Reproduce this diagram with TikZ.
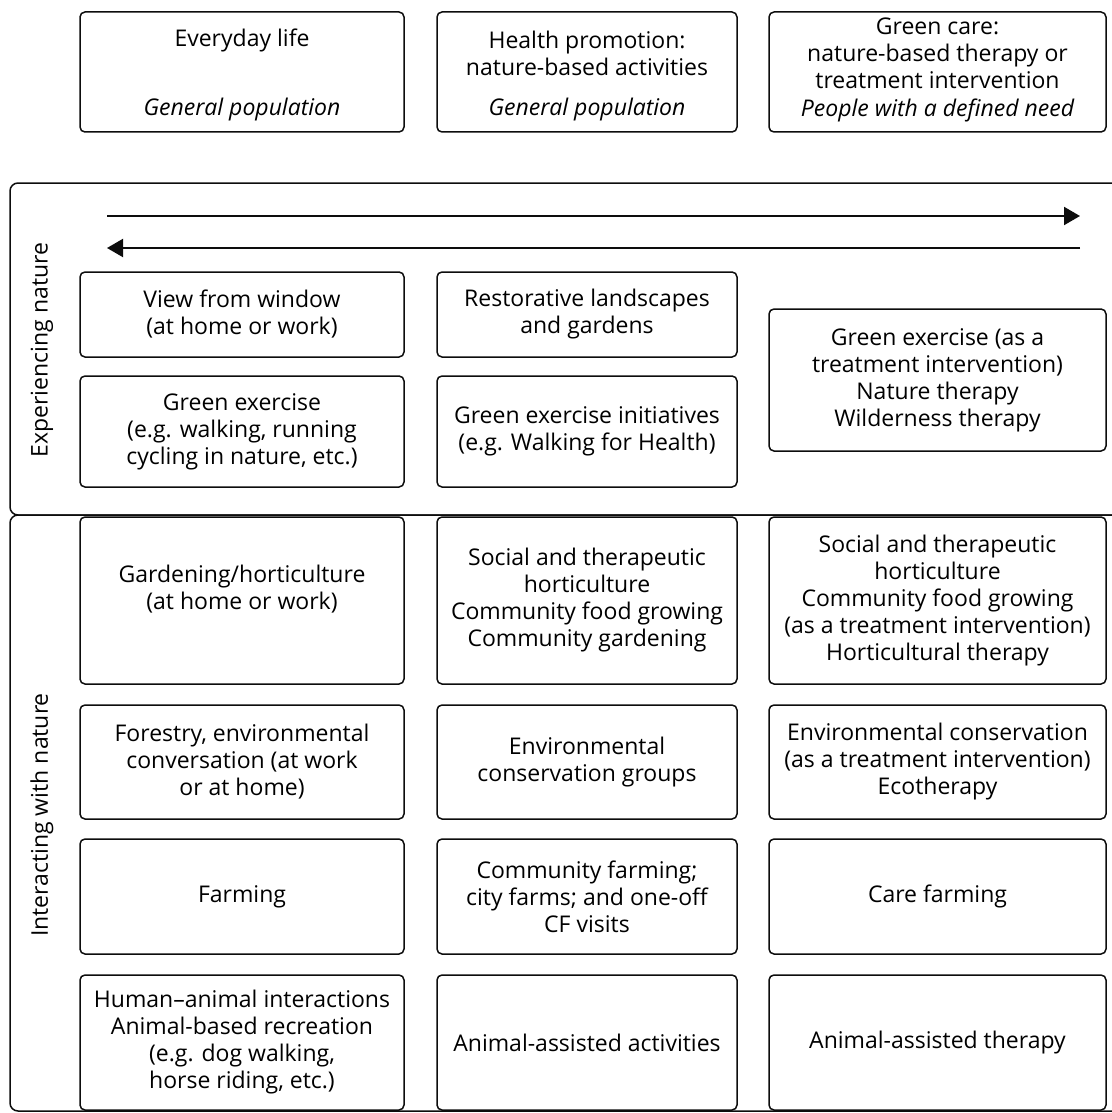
\documentclass[tikz,border=0pt]{standalone}
\usepackage{fontspec}
\setmainfont{Open Sans}
\usepackage{tikz}
\usetikzlibrary{arrows.meta, positioning}
\usepackage{xcolor}
\definecolor{RichBlack}{gray}{0.05}
\tikzset{%
  cell_block/.style={%
    rectangle,%
    rounded corners=2.5pt,%
    draw=RichBlack,%
    line width=0.75pt,%
    inner sep=0pt,%
    align=center,%
    font={\fontsize{11.5}{13.5}\selectfont},%
  },
  frame_block/.style={%
    draw=RichBlack,%
    line width=0.75pt,%
    rounded corners=4pt,%
  },
  top_title/.style={%
    align=center,%
    inner sep=0pt,%
    font={\fontsize{11.5}{13.5}\selectfont},%
  },
  pop_annotate/.style={%
    inner sep=0pt,%
    font={\fontsize{11.5}{13.5}\selectfont\itshape},%
  },
  side_label/.style={%
    rotate=90,%
    inner sep=0pt,%
    font={\fontsize{11.5}{13.5}\selectfont},%
  },
  flow_path/.style={%
    color=RichBlack,%
    line width=1pt,%
  },
  arrow/.style={-{Triangle[length=8pt, width=9pt]}},
}

\begin{document}
\begin{tikzpicture}[x=0.5pt, y=-0.5pt]

    \useasboundingbox (0,0) rectangle (1112,1113);
    \clip (0,0) rectangle (1112,1113);

    % top row
    \node [cell_block, minimum width=162pt, minimum height=60pt] (Everyday) at (242,72) {};
    \node [cell_block, minimum width=150pt, minimum height=60pt] (Promotion) at (587,72) {};
    \node [cell_block, minimum width=168.5pt, minimum height=60pt] (GreenCare) at (937.5,72) {};

    \node [top_title] (EverydayT) at (242,40) {Everyday life};
    \node [top_title] (PromotionT) at (587,53) {Health promotion:\\nature-based activities};
    \node [top_title] (GreenCareT) at (937.5,53) {Green care:\\nature-based therapy or\\treatment intervention};

    \node [pop_annotate] (EverydayP) at (242,110) {General population};
    \node [pop_annotate] (PromotionP) at (587,110) {General population};
    \node [pop_annotate] (GreenCareP) at (937.5,110) {People with a defined need};

    % the two frames
    \draw [frame_block] (10,183) rectangle (1140,515);
    \draw [frame_block] (10,515) rectangle (1140,1111);

    \node [side_label] (Experiencing) at (42,350) {Experiencing nature};
    \node [side_label] (Interacting) at (42,815) {Interacting with nature};

    % arrows
    \coordinate (arrow_w1) at (107,216);
    \coordinate (arrow_e1) at (1080,216);
    \coordinate (arrow_w2) at (107,248);
    \coordinate (arrow_e2) at (1080,248);
    \draw [arrow, flow_path] (arrow_w1) -- (arrow_e1);
    \draw [arrow, flow_path] (arrow_e2) -- (arrow_w2);

    % experiencing nature
    \node [cell_block, minimum width=162pt, minimum height=42.5pt] (Window) at (242,314.5)
      {View from window\\(at home or work)};
    \node [cell_block, minimum width=150pt, minimum height=42.5pt] (Restorative) at (587,314.5)
      {Restorative landscapes\\and gardens};
    \node [cell_block, minimum width=162pt, minimum height=55.5pt] (Exercise) at (242,431.5)
      {Green exercise\\(e.g. walking, running\\cycling in nature, etc.)};
    \node [cell_block, minimum width=150pt, minimum height=55.5pt] (Initiatives) at (587,431.5)
      {Green exercise initiatives\\(e.g. Walking for Health)};
    \node [cell_block, minimum width=168.5pt, minimum height=71pt] (Wilderness) at (937.5,380)
      {Green exercise (as a\\treatment intervention)\\Nature therapy\\Wilderness therapy};

    % interacting with nature
    \node [cell_block, minimum width=162pt, minimum height=83.5pt] (Gardening) at (242,600.5)
      {Gardening/horticulture\\(at home or work)\\[0pt]\mbox{}};
    \node [cell_block, minimum width=150pt, minimum height=83.5pt] (Horticulture) at (587,600.5)
      {Social and therapeutic\\horticulture\\Community food growing\\Community gardening};
    \node [cell_block, minimum width=168.5pt, minimum height=83.5pt] (HortTherapy) at (937.5,600.5)
      {Social and therapeutic\\horticulture\\Community food growing\\(as a treatment intervention)\\Horticultural therapy};

    \node [cell_block, minimum width=162pt, minimum height=57pt] (Forestry) at (242,762)
      {Forestry, environmental\\conversation (at work\\or at home)};
    \node [cell_block, minimum width=150pt, minimum height=57pt] (Conservation) at (587,762)
      {Environmental\\conservation groups};
    \node [cell_block, minimum width=168.5pt, minimum height=57pt] (Ecotherapy) at (937.5,762)
      {Environmental conservation\\(as a treatment intervention)\\Ecotherapy};

    \node [cell_block, minimum width=162pt, minimum height=57.5pt] (Farming) at (242,896.5)
      {Farming};
    \node [cell_block, minimum width=150pt, minimum height=57.5pt] (CityFarms) at (587,896.5)
      {Community farming;\\city farms; and one-off\\CF visits};
    \node [cell_block, minimum width=168.5pt, minimum height=57.5pt] (CareFarming) at (937.5,896.5)
      {Care farming};

    \node [cell_block, minimum width=162pt, minimum height=67.5pt] (Animal) at (242,1042.5)
      {Human--animal interactions\\Animal-based recreation\\(e.g. dog walking,\\horse riding, etc.)};
    \node [cell_block, minimum width=150pt, minimum height=67.5pt] (AnimalAct) at (587,1042.5)
      {Animal-assisted activities};
    \node [cell_block, minimum width=168.5pt, minimum height=67.5pt] (AnimalTher) at (937.5,1042.5)
      {Animal-assisted therapy};

  \end{tikzpicture}
\end{document}
